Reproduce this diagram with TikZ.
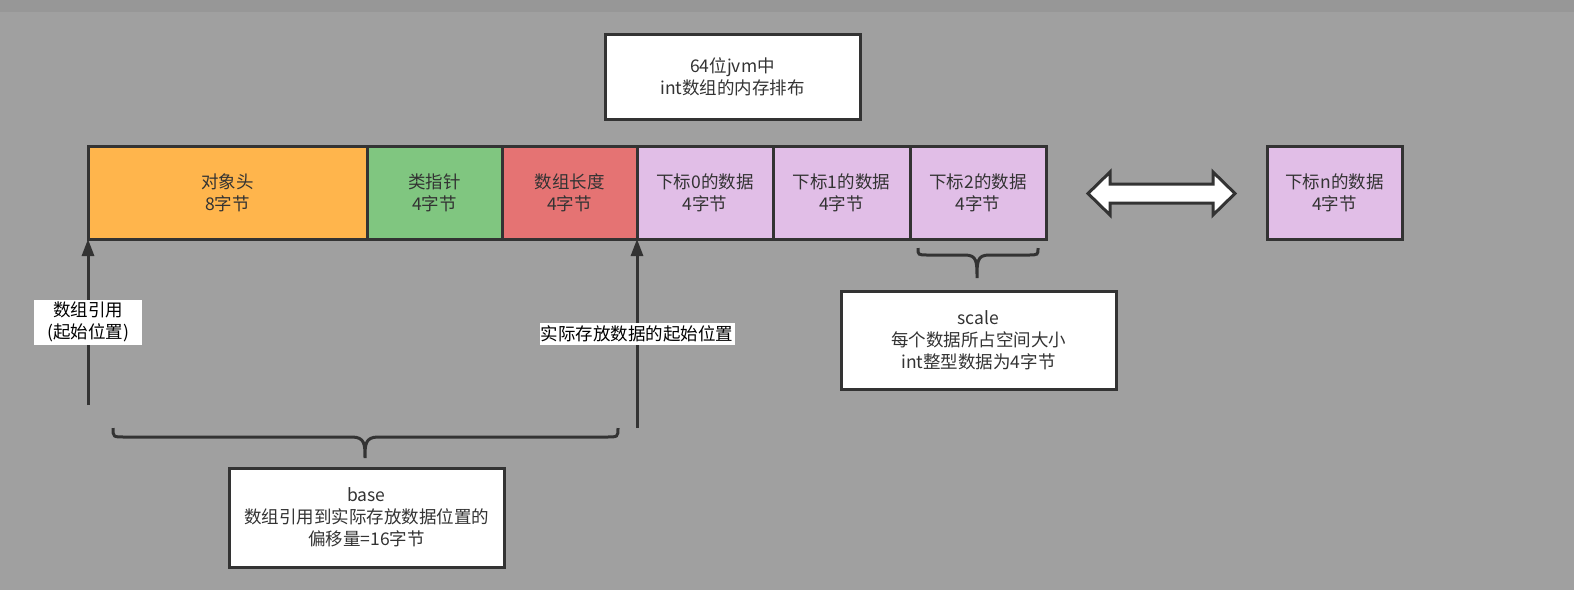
\documentclass[tikz,border=0pt]{standalone}
\usepackage{fontspec}
\setmainfont{Noto Sans CJK SC}
\usetikzlibrary{positioning,arrows.meta}
\definecolor{bg}{HTML}{A0A0A0}
\definecolor{topbar}{HTML}{979797}
\definecolor{ink}{HTML}{333333}
\definecolor{headc}{HTML}{FFB54C}
\definecolor{ptrc}{HTML}{80C680}
\definecolor{lenc}{HTML}{E57373}
\definecolor{datac}{HTML}{E1BEE7}
\newcommand{\fs}{\fontsize{17.5pt}{22pt}\selectfont}
\tikzset{
  cell/.style  = {draw=ink, line width=3pt, outer sep=0pt, inner sep=0pt,
                  minimum height=93pt, text=ink, align=center, font=\fs},
  note/.style  = {draw=ink, line width=3pt, fill=white, outer sep=0pt,
                  inner sep=0pt, text=ink, align=center, font=\fs},
  tag/.style   = {fill=white, text=black, align=center, inner sep=1pt, font=\fs},
  ptr/.style   = {-{Triangle[length=17pt,width=12pt]}, line width=3pt, draw=ink},
  brace/.style = {line width=3pt, draw=ink}
}

\begin{document}
\begin{tikzpicture}[x=1pt,y=-1pt]
  \path[use as bounding box, fill=bg] (0,0) rectangle (1574,590);
  \fill[topbar] (0,0) rectangle (1574,12);

  \node[note, minimum width=255pt, minimum height=85pt] (title) at (732.5,76.5)
    {64位jvm中\\int数组的内存排布};

  \node[cell, fill=headc, minimum width=279pt] (head) at (227.5,192.5) {对象头\\8字节};
  \node[cell, fill=ptrc,  minimum width=135pt, right=0pt of head]  (klass) {类指针\\4字节};
  \node[cell, fill=lenc,  minimum width=135pt, right=0pt of klass] (len)   {数组长度\\4字节};
  \node[cell, fill=datac, minimum width=136pt, right=0pt of len]   (d0)    {下标0的数据\\4字节};
  \node[cell, fill=datac, minimum width=137pt, right=0pt of d0]    (d1)    {下标1的数据\\4字节};
  \node[cell, fill=datac, minimum width=136pt, right=0pt of d1]    (d2)    {下标2的数据\\4字节};
  \node[cell, fill=datac, minimum width=135pt, right=221pt of d2]  (dn)    {下标n的数据\\4字节};

  \draw[line width=3pt, draw=ink, fill=white]
    (1088,193.5) -- (1110,172) -- (1110,184) -- (1213,184) -- (1213,172)
    -- (1235,193.5) -- (1213,215) -- (1213,203) -- (1110,203) -- (1110,215) -- cycle;

  \coordinate (refstart) at (88,405);
  \coordinate (datastart) at (637,428);
  \draw[ptr] (refstart) -- node[tag, minimum width=108pt, minimum height=45pt] (reftag)
    {数组引用\\(起始位置)} (head.south west);
  \draw[ptr] (datastart) -- node[tag, minimum width=195pt, minimum height=22pt] (datatag)
    {实际存放数据的起始位置} (d0.south west);

  \draw[brace] (113,428) .. controls (113,437) .. (125,437) -- (352,437)
    .. controls (365,437) and (365,445) .. (365,458)
    .. controls (365,445) and (365,437) .. (378,437) -- (606,437)
    .. controls (618,437) .. (618,428);
  \draw[brace] (918,248) .. controls (918,255) .. (928,255) -- (965,255)
    .. controls (977,255) and (977,262) .. (977,278)
    .. controls (977,262) and (977,255) .. (989,255) -- (1028,255)
    .. controls (1038,255) .. (1038,248);

  \node[note, minimum width=275pt, minimum height=99pt] (base) at (366.5,517.5)
    {base\\数组引用到实际存放数据位置的\\偏移量=16字节};
  \node[note, minimum width=275pt, minimum height=98pt] (scale) at (978.5,340)
    {scale\\每个数据所占空间大小\\int整型数据为4字节};
\end{tikzpicture}
\end{document}
